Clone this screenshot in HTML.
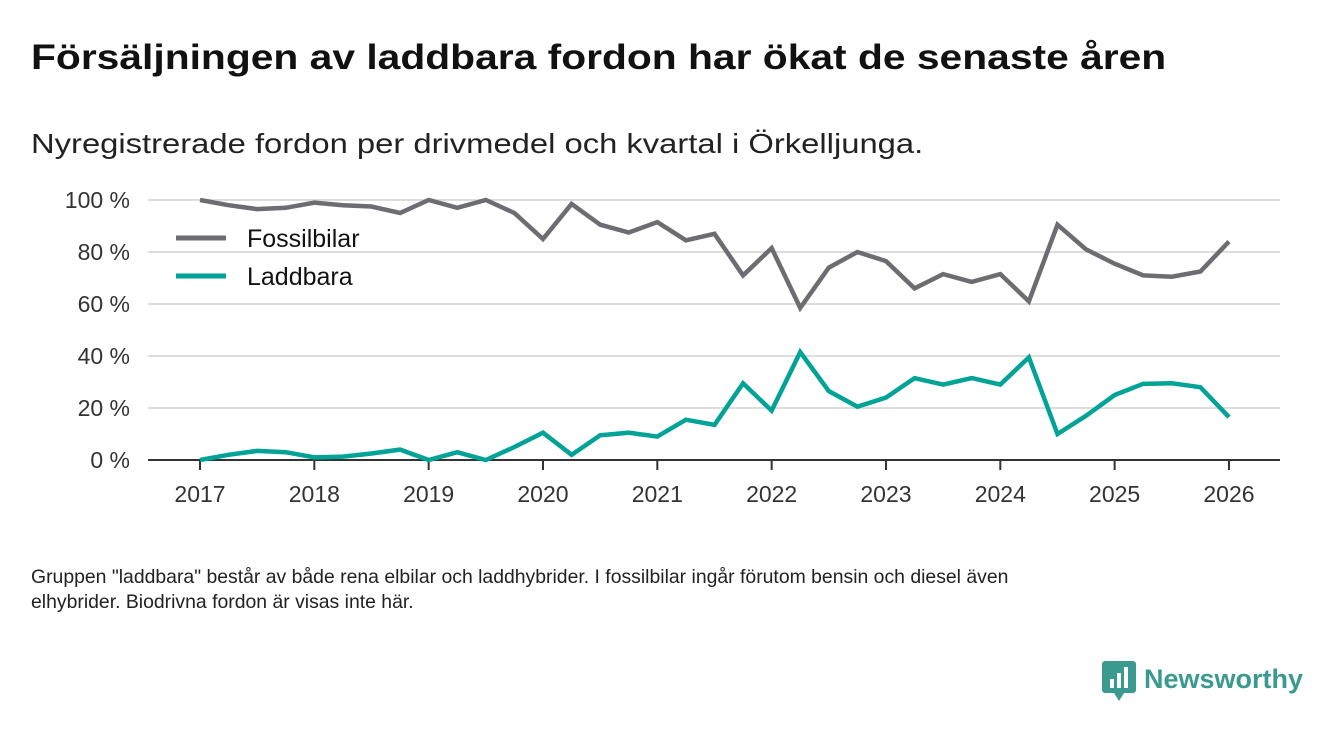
<!DOCTYPE html>
<html><head><meta charset="utf-8"><style>
body{margin:0;width:1340px;height:733px;background:#fff;font-family:"Liberation Sans",sans-serif;color:#111;overflow:hidden;position:relative}
#t{position:absolute;left:31px;top:38px;font-size:35px;font-weight:bold;transform:scaleX(1.165);transform-origin:0 0;white-space:nowrap}
#s{position:absolute;left:31px;top:128px;font-size:28px;color:#222;transform:scaleX(1.17);transform-origin:0 0;white-space:nowrap}
#n{position:absolute;left:31px;top:565px;font-size:19.4px;line-height:25px;color:#222;white-space:nowrap}
#logo{position:absolute;left:1102px;top:661px;font-size:27px;font-weight:bold;color:#3a9a8f;white-space:nowrap}
</style></head><body>
<div id="t">Försäljningen av laddbara fordon har ökat de senaste åren</div>
<div id="s">Nyregistrerade fordon per drivmedel och kvartal i Örkelljunga.</div>
<svg id="c" width="1340" height="733" style="position:absolute;left:0;top:0"></svg>
<div id="n">Gruppen "laddbara" består av både rena elbilar och laddhybrider. I fossilbilar ingår förutom bensin och diesel även<br>elhybrider. Biodrivna fordon är visas inte här.</div>
<div id="logo"><svg width="34" height="40" style="vertical-align:middle;margin-right:8px"><rect x="0" y="0" width="34" height="32" rx="3" fill="#3a9a8f"/><polygon points="12,32 22,32 17,40" fill="#3a9a8f"/><rect x="8" y="18" width="4" height="9" fill="#fff"/><rect x="15" y="12" width="4" height="15" fill="#fff"/><rect x="22" y="6" width="4" height="21" fill="#fff"/></svg>Newsworthy</div>
<script>
const years=[2017,2018,2019,2020,2021,2022,2023,2024,2025,2026];
const yTicks=[0,20,40,60,80,100];
const fossil=[100,98,96.5,97,99,98,97.5,95,100,97,100,95,85,98.5,90.5,87.5,91.5,84.5,87,71,81.5,58.5,74,80,76.5,66,71.5,68.5,71.5,61,90.5,81,75.5,71,70.5,72.5,84];
const laddbara=[0,2,3.5,3,1,1.3,2.5,4,0,3,0,5,10.5,2,9.5,10.5,9,15.5,13.5,29.5,19,41.5,26.5,20.5,24,31.5,29,31.5,29,39.5,10,17,25,29.3,29.5,28,16.5];
const svg=document.getElementById('c');const NS='http://www.w3.org/2000/svg';
const X=t=>200+(t-2017)*114.33, Y=v=>460-v*2.6;
function mk(tag,a){const e=document.createElementNS(NS,tag);for(const k in a)e.setAttribute(k,a[k]);svg.appendChild(e);return e;}
yTicks.forEach(v=>{
 if(v>0){const g=mk('line',{x1:148,x2:1280,y1:Y(v),y2:Y(v),stroke:'#dddddd','stroke-width':2});
 
 }
 const t=mk('text',{x:130,y:Y(v)+8,'text-anchor':'end','font-size':23,fill:'#333','font-family':'Liberation Sans, sans-serif'});t.textContent=v+' %';
 
 
});
const ax=mk('line',{x1:148,x2:1280,y1:460,y2:460,stroke:'#333','stroke-width':2});


years.forEach(yr=>{
 const tk=mk('line',{x1:X(yr),x2:X(yr),y1:460,y2:470,stroke:'#333','stroke-width':2});
 
 
 const t=mk('text',{x:X(yr),y:502,'text-anchor':'middle','font-size':23,fill:'#333','font-family':'Liberation Sans, sans-serif'});t.textContent=yr;
 
 
});
function line(d,col,name){
 const p=mk('polyline',{points:d.map((v,i)=>X(2017+i/4)+','+Y(v)).join(' '),fill:'none',stroke:col,'stroke-width':4.5,'stroke-linejoin':'miter'});
 
 
}
line(fossil,'#6d6c72','fossilbilar-line');
line(laddbara,'#00a396','laddbara-line');
[['Fossilbilar','#6d6c72',238],['Laddbara','#00a396',276]].forEach(([n,c,y])=>{
 const l=mk('line',{x1:176,x2:226,y1:y,y2:y,stroke:c,'stroke-width':5});
 
 
 const t=mk('text',{x:247,y:y+9,'font-size':25,fill:'#111','font-family':'Liberation Sans, sans-serif'});t.textContent=n;
 
 
});
</script>
</body></html>
